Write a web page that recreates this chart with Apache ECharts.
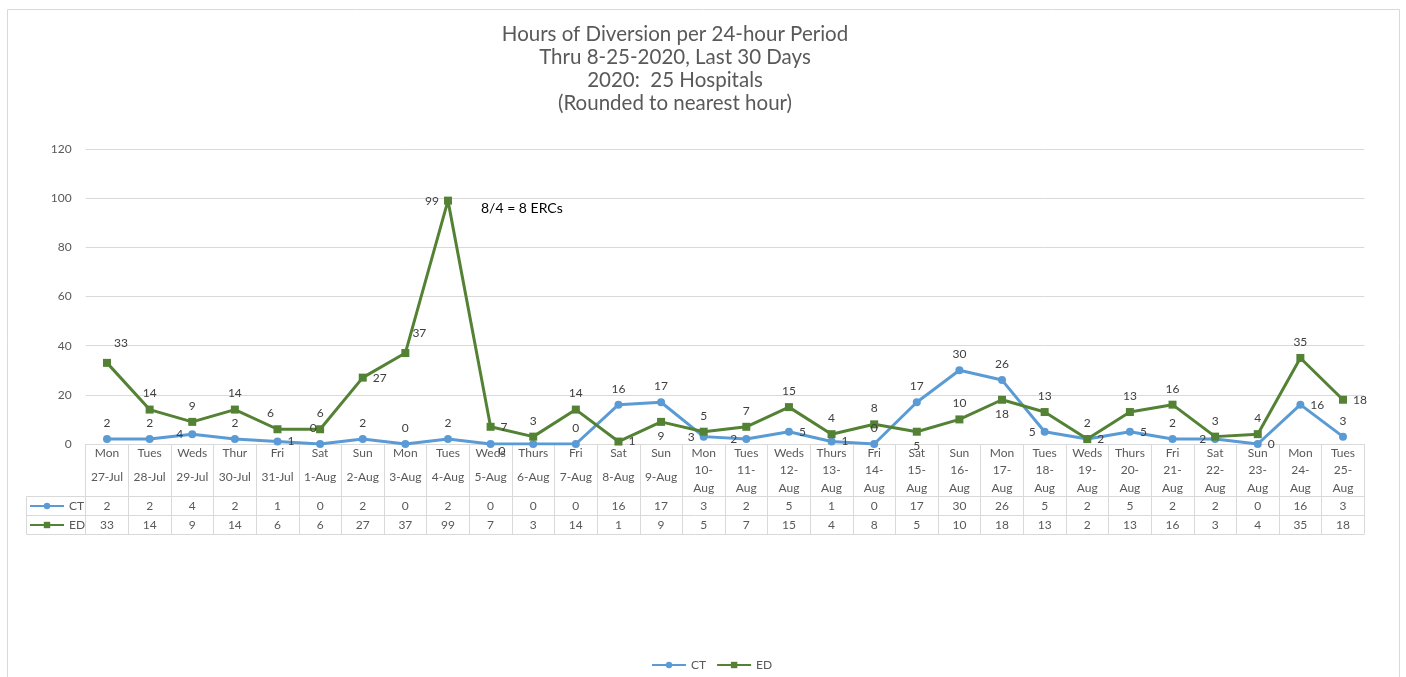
<!DOCTYPE html>
<html>
<head>
<meta charset="utf-8">
<script src="https://cdn.jsdelivr.net/npm/echarts@6/dist/echarts.min.js"></script>
<style>html,body{margin:0;padding:0;background:#fff;}#c{width:1406px;height:677px;}</style>
</head>
<body>
<div id="c"></div>
<script>
const days = ['Mon','Tues','Weds','Thur','Fri','Sat','Sun','Mon','Tues','Weds','Thurs','Fri','Sat','Sun','Mon','Tues','Weds','Thurs','Fri','Sat','Sun','Mon','Tues','Weds','Thurs','Fri','Sat','Sun','Mon','Tues'];
const dates = ['27-Jul','28-Jul','29-Jul','30-Jul','31-Jul','1-Aug','2-Aug','3-Aug','4-Aug','5-Aug','6-Aug','7-Aug','8-Aug','9-Aug','10-Aug','11-Aug','12-Aug','13-Aug','14-Aug','15-Aug','16-Aug','17-Aug','18-Aug','19-Aug','20-Aug','21-Aug','22-Aug','23-Aug','24-Aug','25-Aug'];
const ctValues = [2,2,4,2,1,0,2,0,2,0,0,0,16,17,3,2,5,1,0,17,30,26,5,2,5,2,2,0,16,3];
const edValues = [33,14,9,14,6,6,27,37,99,7,3,14,1,9,5,7,15,4,8,5,10,18,13,2,13,16,3,4,35,18];
const yTicks = {min: 0, max: 120, interval: 20};
const titleLines = ['Hours of Diversion per 24-hour Period','Thru 8-25-2020, Last 30 Days','2020:  25 Hospitals','(Rounded to nearest hour)'];
const annotation = '8/4 = 8 ERCs';

// label placement (style only)
const ctLabelPos = ['T','T','L','T','R','TL','T','T','T','BR','N','T','T','T','L','L','R','R','T','T','T','T','L','T','R','T','L','R','R','T'];
const edLabelPos = ['TR','T','T','T','TL','T','R','TR','L','R','T','T','R','B','T','T','T','T','T','B','T','B','T','R','T','T','T','T','T','R'];

const FONT = 'Lato, "Open Sans", sans-serif';
const TXT = '#595959';
const LBL = '#404040';
const GRIDC = '#d9d9d9';
const CT_C = '#5B9BD5';
const ED_C = '#548235';

function place(p) {
  switch (p) {
    case 'T': return {position: 'top', distance: 6};
    case 'B': return {position: 'bottom', distance: 4};
    case 'L': return {position: 'left', distance: 5};
    case 'R': return {position: 'right', distance: 6};
    case 'TR': return {position: 'top', distance: 6, offset: [14, -4]};
    case 'TL': return {position: 'top', distance: 6, offset: [-7, 0]};
    case 'BR': return {position: 'right', distance: 4, offset: [0, 7]};
    case 'N': return {show: false};
  }
  return {};
}

const gridLeft = 85.7, gridRight = 1364.3, gridTop = 149, gridBottomY = 444;

const chart = echarts.init(document.getElementById('c'), null, {renderer: 'canvas'});

const catLabel = (v, i) => {
  const d = dates[i];
  if (d.length >= 6 && d.endsWith('Aug')) {
    const parts = d.split('-');
    return '{d|' + days[i] + '}\n{d|' + parts[0] + '-}\n{d|' + parts[1] + '}';
  }
  return '{d|' + days[i] + '}\n{s|' + d + '}';
};

const option = {
  animation: false,
  textStyle: {fontFamily: FONT},
  title: {
    text: titleLines.join('\n'),
    left: 675,
    textAlign: 'center',
    top: 23,
    padding: 0,
    textStyle: {fontFamily: FONT, fontSize: 20.5, fontWeight: 'normal', color: TXT, lineHeight: 23}
  },
  legend: [
    {
      data: ['CT', 'ED'], bottom: 1, left: 646, itemWidth: 34, itemHeight: 8, itemGap: 10,
      textStyle: {fontFamily: FONT, fontSize: 12, color: TXT}
    },
    {
      data: ['CT'], left: 29, top: 500, itemWidth: 34, itemHeight: 8, padding: 0,
      textStyle: {fontFamily: FONT, fontSize: 12, color: TXT}
    },
    {
      data: ['ED'], left: 29, top: 519, itemWidth: 34, itemHeight: 8, padding: 0,
      textStyle: {fontFamily: FONT, fontSize: 12, color: TXT}
    }
  ],
  grid: {left: gridLeft, right: 1406 - gridRight, top: gridTop, bottom: 677 - gridBottomY, containLabel: false},
  xAxis: [
    {
      type: 'category', data: days, boundaryGap: true,
      axisLine: {show: true, lineStyle: {color: GRIDC}},
      axisTick: {show: true, length: 90, interval: 0, lineStyle: {color: GRIDC}},
      axisLabel: {
        interval: 0, margin: 0, hideOverlap: false, formatter: catLabel,
        rich: {
          d: {fontFamily: FONT, fontSize: 12, color: TXT, lineHeight: 17.5, align: 'center'},
          s: {fontFamily: FONT, fontSize: 12, color: TXT, lineHeight: 32, align: 'center'}
        }
      }
    },
    {
      type: 'category', data: days, boundaryGap: true, position: 'bottom',
      axisLine: {show: false}, axisTick: {show: false},
      axisLabel: {interval: 0, margin: 62, verticalAlign: 'middle', fontFamily: FONT, fontSize: 12, color: TXT,
        formatter: (v, i) => String(ctValues[i])}
    },
    {
      type: 'category', data: days, boundaryGap: true, position: 'bottom',
      axisLine: {show: false}, axisTick: {show: false},
      axisLabel: {interval: 0, margin: 81, verticalAlign: 'middle', fontFamily: FONT, fontSize: 12, color: TXT,
        formatter: (v, i) => String(edValues[i])}
    }
  ],
  yAxis: {
    type: 'value', min: yTicks.min, max: yTicks.max, interval: yTicks.interval,
    axisLine: {show: false}, axisTick: {show: false},
    axisLabel: {margin: 14, fontFamily: FONT, fontSize: 12, color: TXT},
    splitLine: {lineStyle: {color: GRIDC}}
  },
  series: [
    {
      name: 'CT', type: 'line', xAxisIndex: 0,
      data: ctValues.map((v, i) => ({value: v, label: place(ctLabelPos[i])})),
      symbol: 'circle', symbolSize: 8,
      lineStyle: {width: 3, color: CT_C}, itemStyle: {color: CT_C},
      label: {show: true, fontFamily: FONT, fontSize: 12, color: LBL}
    },
    {
      name: 'ED', type: 'line', xAxisIndex: 0,
      data: edValues.map((v, i) => ({value: v, label: place(edLabelPos[i])})),
      symbol: 'rect', symbolSize: 8,
      lineStyle: {width: 3, color: ED_C}, itemStyle: {color: ED_C},
      label: {show: true, fontFamily: FONT, fontSize: 12, color: LBL}
    }
  ],
  graphic: [
    {type: 'rect', shape: {x: 7.5, y: 9.5, width: 1392, height: 700}, style: {fill: 'none', stroke: GRIDC, lineWidth: 1}, silent: true, z: -10},
    {type: 'line', shape: {x1: 26.5, y1: 496.5, x2: gridRight, y2: 496.5}, style: {stroke: GRIDC, lineWidth: 1}, silent: true},
    {type: 'line', shape: {x1: 26.5, y1: 515.5, x2: gridRight, y2: 515.5}, style: {stroke: GRIDC, lineWidth: 1}, silent: true},
    {type: 'line', shape: {x1: 26.5, y1: 534.5, x2: gridRight, y2: 534.5}, style: {stroke: GRIDC, lineWidth: 1}, silent: true},
    {type: 'line', shape: {x1: 26.5, y1: 496.5, x2: 26.5, y2: 534.5}, style: {stroke: GRIDC, lineWidth: 1}, silent: true},
    {type: 'text', left: 481, top: 201, style: {text: annotation, fontFamily: FONT, fontSize: 14, fill: '#000'}, silent: true}
  ]
};
chart.setOption(option);
</script>
</body>
</html>
